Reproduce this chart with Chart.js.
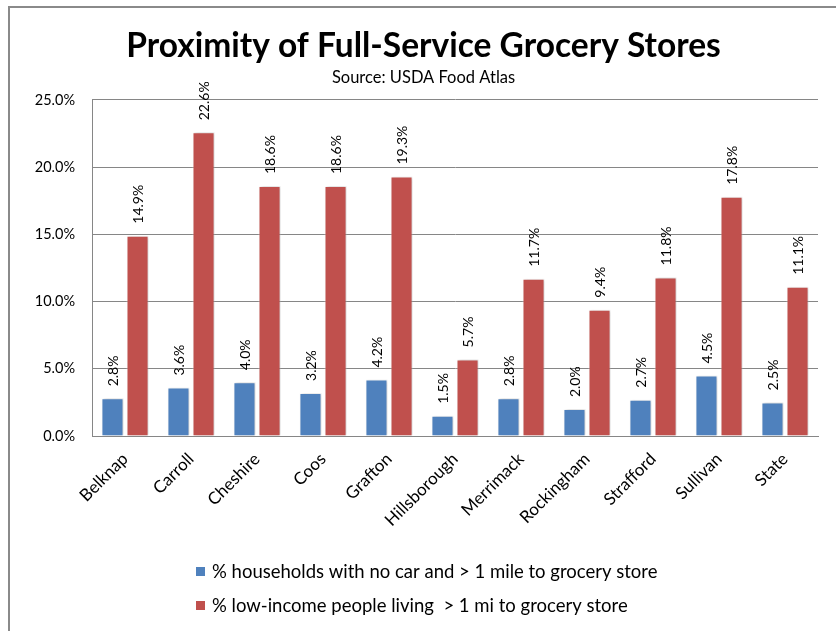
<!DOCTYPE html>
<html><head><meta charset="utf-8">
<script src="https://cdn.jsdelivr.net/npm/chart.js@4.4.1/dist/chart.umd.min.js"></script>
<style>html,body{margin:0;padding:0;background:#fff;}#wrap{position:relative;width:836px;height:631px;}canvas{display:block;}</style>
</head><body><div id="wrap"><canvas id="c" width="836" height="631"></canvas></div>
<script>
const categories = ["Belknap","Carroll","Cheshire","Coos","Grafton","Hillsborough","Merrimack","Rockingham","Strafford","Sullivan","State"];
const noCarValues = [2.8,3.6,4.0,3.2,4.2,1.5,2.8,2.0,2.7,4.5,2.5];
const lowIncomeValues = [14.9,22.6,18.6,18.6,19.3,5.7,11.7,9.4,11.8,17.8,11.1];
const seriesLabels = ["% households with no car and > 1 mile to grocery store","% low-income people living  > 1 mi to grocery store"];
const seriesColors = ["#4F81BD","#C0504D"];
const yMin = 0, yMax = 25, yStep = 5;
const titleText = "Proximity of Full-Service Grocery Stores";
const subtitleText = "Source: USDA Food Atlas";

const FONT = "Lato, 'Open Sans', sans-serif";

const framePlugin = {
  id: 'frame',
  beforeDraw(chart) {
    const ctx = chart.ctx;
    ctx.save();
    ctx.fillStyle = '#fff';
    ctx.fillRect(0, 0, chart.width, chart.height);
    ctx.strokeStyle = '#8a8a8a';
    ctx.lineWidth = 2;
    ctx.beginPath();
    ctx.moveTo(9, chart.height + 5);
    ctx.lineTo(9, 7);
    ctx.lineTo(chart.width + 5, 7);
    ctx.stroke();
    ctx.restore();
  }
};

const shadowPlugin = {
  id: 'barShadow',
  beforeDatasetsDraw(chart) {
    const ctx = chart.ctx;
    ctx.save();
    ctx.shadowColor = 'rgba(0,0,0,0.22)';
    ctx.shadowBlur = 3;
    ctx.shadowOffsetX = 1.5;
    ctx.shadowOffsetY = 0;
  },
  afterDatasetsDraw(chart) {
    chart.ctx.restore();
  }
};

const valueLabelPlugin = {
  id: 'valueLabels',
  afterDatasetsDraw(chart) {
    const ctx = chart.ctx;
    ctx.save();
    ctx.font = "14px " + FONT;
    ctx.fillStyle = '#000';
    ctx.textAlign = 'left';
    ctx.textBaseline = 'middle';
    chart.data.datasets.forEach((ds, di) => {
      const meta = chart.getDatasetMeta(di);
      meta.data.forEach((bar, i) => {
        const v = ds.data[i];
        ctx.save();
        ctx.translate(bar.x + 1, bar.y - 12);
        ctx.rotate(-Math.PI / 2);
        ctx.fillText(v.toFixed(1) + '%', 0, 0);
        ctx.restore();
      });
    });
    ctx.restore();
  }
};

const legendPlugin = {
  id: 'customLegend',
  afterDraw(chart) {
    const ctx = chart.ctx;
    ctx.save();
    ctx.font = "18.5px " + FONT;
    ctx.textBaseline = 'middle';
    ctx.textAlign = 'left';
    const x0 = 196, rows = [572, 606];
    chart.data.datasets.forEach((ds, i) => {
      const y = rows[i];
      ctx.fillStyle = ds.backgroundColor;
      ctx.fillRect(x0, y - 5, 9, 9);
      ctx.fillStyle = '#000';
      ctx.fillText(ds.label, x0 + 16, y);
    });
    ctx.restore();
  }
};

new Chart(document.getElementById('c'), {
  type: 'bar',
  data: {
    labels: categories,
    datasets: [
      { label: seriesLabels[0], data: noCarValues, backgroundColor: seriesColors[0], borderColor: 'rgba(255,255,255,0.55)', borderWidth: 1, categoryPercentage: 0.76, barPercentage: 0.88 },
      { label: seriesLabels[1], data: lowIncomeValues, backgroundColor: seriesColors[1], borderColor: 'rgba(255,255,255,0.55)', borderWidth: 1, categoryPercentage: 0.76, barPercentage: 0.88 }
    ]
  },
  options: {
    responsive: false,
    animation: false,
    devicePixelRatio: 1,
    layout: { padding: { left: 29, right: 18, top: 0, bottom: 85 } },
    plugins: {
      legend: { display: false },
      tooltip: { enabled: false },
      title: { display: true, text: titleText, color: '#000', font: { family: FONT, size: 33.5, weight: 'bold' }, padding: { top: 26, bottom: 2 } },
      subtitle: { display: true, text: subtitleText, color: '#000', font: { family: FONT, size: 16.5 }, padding: { top: 0, bottom: 12 } }
    },
    scales: {
      x: {
        grid: { display: false },
        border: { display: true, color: '#868686', width: 1 },
        ticks: { color: '#000', font: { family: FONT, size: 17 }, maxRotation: 45, minRotation: 45, padding: 5, autoSkip: false },
        afterFit(s) { s.height = 110; }
      },
      y: {
        min: yMin, max: yMax,
        grid: { color: '#868686', drawTicks: false },
        border: { display: true, color: '#868686', width: 1 },
        ticks: { stepSize: yStep, color: '#000', font: { family: FONT, size: 14.5 }, padding: 17, callback: v => Number(v).toFixed(1) + '%' },
        afterFit(s) { s.width = 63; }
      }
    }
  },
  plugins: [framePlugin, shadowPlugin, valueLabelPlugin, legendPlugin]
});
</script></body></html>
